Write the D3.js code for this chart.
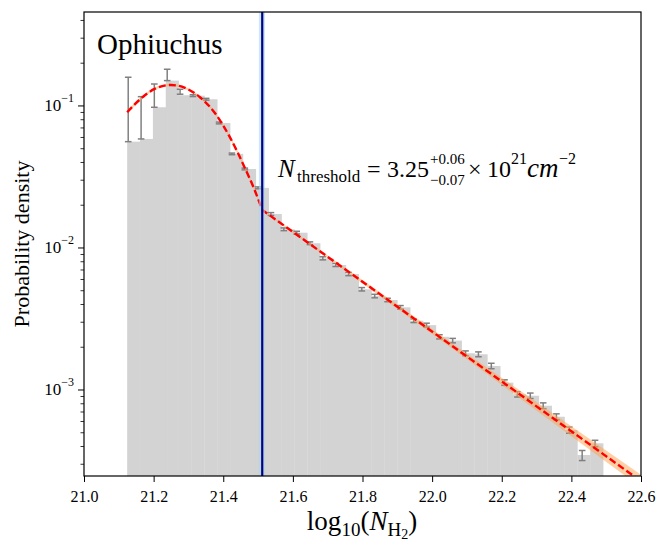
<!DOCTYPE html>
<html><head><meta charset="utf-8">
<script src="https://cdn.jsdelivr.net/npm/d3@7"></script>
<style>body{margin:0;background:#fff}svg{display:block}
svg text{font-family:"Liberation Serif","DejaVu Serif",serif;}</style>
</head><body>
<svg id="c" width="668" height="545"></svg>
<script>
// ---------------- data ----------------
const binLeft = 21.124;            // left edge of first histogram bar (log10 N)
const binWidth = 0.03695;          // histogram bin width
const barValues = [0.0556,0.0581,0.0971,0.1496,0.118,0.1172,0.1106,0.0753,0.0456,0.0357,0.0263,
  0.0172,0.01343,0.01271,0.01071,0.00839,0.00753,0.0065,0.00508,0.00455,0.00427,0.00379,0.00305,
  0.00284,0.00235,0.00221,0.0018,0.00177,0.001465,0.001117,0.000925,0.000904,0.000769,0.000643,
  0.000518,0.000346,0.000418];
const errX = [21.127,21.164,21.202,21.239,21.276,21.313,21.351,21.388,21.425,21.462,21.500,21.537,
  21.574,21.611,21.649,21.686,21.723,21.760,21.798,21.835,21.872,21.909,21.947,21.984,22.021,22.059,
  22.096,22.133,22.170,22.208,22.245,22.282,22.319,22.357,22.394,22.431,22.468];
const errLow = [0.0556,0.0581,0.0971,0.1496,0.120,0.1155,0.1090,0.0742,0.0450,0.0352,0.0259,
  0.0168,0.01313,0.01243,0.01047,0.00818,0.00734,0.00633,0.00494,0.00442,0.00415,0.00368,0.00296,
  0.00275,0.00227,0.00213,0.00173,0.00170,0.00140,0.00107,0.000885,0.000864,0.000733,0.000612,
  0.000492,0.000316,0.000395];
const errHigh = [0.158,0.1153,0.1416,0.1799,0.130,0.1189,0.1122,0.0764,0.0462,0.0362,0.0267,
  0.0176,0.01373,0.01300,0.01095,0.00860,0.00772,0.00667,0.00522,0.00468,0.00439,0.00390,0.00314,
  0.00293,0.00243,0.00229,0.00187,0.00184,0.00153,0.00117,0.000965,0.000944,0.000805,0.000674,
  0.000544,0.000372,0.000439];
// fit: log-normal part + power-law tail
const fitLogX = [21.124,21.161,21.204,21.250,21.290,21.333,21.376,21.419,21.463,21.491,21.512];
const fitLogY = [0.0896,0.1104,0.1312,0.1394,0.1330,0.1143,0.0885,0.0598,0.0359,0.0251,0.01837];
const fitLogLo = [0.0872,0.1079,0.1288,0.1369,0.1306,0.1122,0.0869,0.0586,0.0351,0.0246,0.01816];
const fitLogHi = [0.0921,0.1130,0.1336,0.1420,0.1355,0.1164,0.0901,0.0611,0.0367,0.0256,0.01858];
const fitPowX = [21.512,21.8,22.1,22.4,22.6];
const fitPowY = [0.01837,0.00574,0.001707,0.000508,0.000226];
const fitPowLo = [0.01816,0.00558,0.001630,0.000469,0.000204];
const fitPowHi = [0.01858,0.00590,0.001787,0.000551,0.000251];
const threshold = 21.512, thresholdLo = 21.5024, thresholdHi = 21.5198;
const xTicks = [21.0,21.2,21.4,21.6,21.8,22.0,22.2,22.4,22.6];
const yMajor = [1e-3,1e-2,1e-1];
const yMajorExp = ["−3","−2","−1"];
const yMinor = [3e-4,4e-4,5e-4,6e-4,7e-4,8e-4,9e-4,2e-3,3e-3,4e-3,5e-3,6e-3,7e-3,8e-3,9e-3,
  2e-2,3e-2,4e-2,5e-2,6e-2,7e-2,8e-2,9e-2,2e-1,3e-1,4e-1];

// ---------------- layout ----------------
const L = 84, R = 641, T = 12, B = 476;
const svg = d3.select("#c");
const x = d3.scaleLinear([21, 22.6], [L, R]);
const y = d3.scaleLog([2.46e-4, 0.455], [B, T]);

svg.append("defs").append("clipPath").attr("id","clip")
  .append("rect").attr("x",L).attr("y",T).attr("width",R-L).attr("height",B-T);
const g = svg.append("g").attr("clip-path","url(#clip)");

// bars
g.selectAll("rect.bar").data(barValues).join("rect").attr("class","bar")
  .attr("x",(d,i)=>x(binLeft+i*binWidth))
  .attr("width",(d,i)=>x(binLeft+(i+1)*binWidth)-x(binLeft+i*binWidth)+0.3)
  .attr("y",d=>y(d)).attr("height",d=>B-y(d))
  .attr("fill","#d3d3d3");

// error bars
const eb = g.append("g").attr("stroke","#808080").attr("stroke-width",1.5);
errX.forEach((xv,i)=>{
  const cx = x(xv);
  eb.append("line").attr("x1",cx).attr("x2",cx).attr("y1",y(errLow[i])).attr("y2",y(errHigh[i]));
  eb.append("line").attr("x1",cx-3.3).attr("x2",cx+3.3).attr("y1",y(errLow[i])).attr("y2",y(errLow[i]));
  eb.append("line").attr("x1",cx-3.3).attr("x2",cx+3.3).attr("y1",y(errHigh[i])).attr("y2",y(errHigh[i]));
});

// fit band
const area = d3.area().x(d=>x(d[0])).y0(d=>y(d[1])).y1(d=>y(d[2]));
const logBand = fitLogX.map((v,i)=>[v,fitLogLo[i],fitLogHi[i]]);
const powBand = fitPowX.map((v,i)=>[v,fitPowLo[i],fitPowHi[i]]);
g.append("path").attr("d",area.curve(d3.curveMonotoneX)(logBand)).attr("fill","#ffa24d").attr("opacity",0.5);
g.append("path").attr("d",area.curve(d3.curveLinear)(powBand)).attr("fill","#ffa24d").attr("opacity",0.5);

// fit line
const pts = fitLogX.map((v,i)=>[v,fitLogY[i]]);
const ptsP = fitPowX.map((v,i)=>[v,fitPowY[i]]);
const line = d3.line().x(d=>x(d[0])).y(d=>y(d[1]));
const allPath = line.curve(d3.curveMonotoneX)(pts) + line.curve(d3.curveLinear)(ptsP).replace(/^M/,"L");
g.append("path").attr("d",allPath).attr("fill","none").attr("stroke","#ff0000")
  .attr("stroke-width",2.4).attr("stroke-dasharray","7,3.2");

// threshold
g.append("rect").attr("x",x(thresholdLo)).attr("width",x(thresholdHi)-x(thresholdLo))
  .attr("y",T).attr("height",B-T).attr("fill","#add8e6").attr("opacity",0.6);
g.append("line").attr("x1",x(threshold)).attr("x2",x(threshold)).attr("y1",T).attr("y2",B)
  .attr("stroke","#00008b").attr("stroke-width",2.2);

// axes
const xa = svg.append("g").attr("transform",`translate(0,${B})`)
  .call(d3.axisBottom(x).tickValues(xTicks).tickFormat(d3.format(".1f")).tickSize(6).tickSizeOuter(0));
xa.attr("font-family",null);
xa.select(".domain").remove();
xa.selectAll("text").attr("font-size",16).attr("fill","#000").attr("dy","1.05em");
xa.selectAll("line").attr("stroke","#000").attr("stroke-width",1);

const ya = svg.append("g").attr("transform",`translate(${L},0)`)
  .call(d3.axisLeft(y).tickValues(yMajor).tickFormat(()=> "").tickSize(6).tickSizeOuter(0));
ya.select(".domain").remove();
ya.selectAll("line").attr("stroke","#000");
const ym = svg.append("g").attr("transform",`translate(${L},0)`)
  .call(d3.axisLeft(y).tickValues(yMinor).tickFormat(()=> "").tickSize(3.5).tickSizeOuter(0));
ym.select(".domain").remove();
ym.selectAll("line").attr("stroke","#000").attr("stroke-width",0.8);

yMajor.forEach((v,i)=>{
  const t = svg.append("text").attr("x",74).attr("y",y(v)+6).attr("text-anchor","end")
    .attr("font-size",17).attr("fill","#000");
  t.append("tspan").text("10");
  t.append("tspan").attr("font-size",12).attr("dy",-9).text(yMajorExp[i]);
});

// frame
svg.append("rect").attr("x",L).attr("y",T).attr("width",R-L).attr("height",B-T)
  .attr("fill","none").attr("stroke","#000").attr("stroke-width",1.2);

// axis labels
svg.append("text").attr("transform",`translate(29,${(T+B)/2}) rotate(-90)`).attr("text-anchor","middle")
  .attr("font-size",22).text("Probability density");
const xl = svg.append("text").attr("x",362).attr("y",530).attr("text-anchor","middle")
  .attr("font-size",27);
xl.append("tspan").text("log");
xl.append("tspan").attr("font-size",19).attr("dy",6).text("10");
xl.append("tspan").attr("dy",-6).text("(");
xl.append("tspan").attr("font-style","italic").text("N");
xl.append("tspan").attr("font-size",19).attr("dy",6).text("H");
xl.append("tspan").attr("font-size",14).attr("dy",3).text("2");
xl.append("tspan").attr("dy",-9).text(")");

// annotations
svg.append("text").attr("x",97).attr("y",54).attr("font-size",29).text("Ophiuchus");
const ann = svg.append("g").attr("fill","#000");
ann.append("text").attr("x",278).attr("y",177).attr("font-size",25).attr("font-style","italic").text("N");
ann.append("text").attr("x",297).attr("y",182).attr("font-size",17).text("threshold");
ann.append("text").attr("x",367).attr("y",177).attr("font-size",24).text("=");
ann.append("text").attr("x",387).attr("y",177).attr("font-size",24).text("3.25");
ann.append("text").attr("x",430).attr("y",164).attr("font-size",15).text("+0.06");
ann.append("text").attr("x",430).attr("y",185).attr("font-size",15).text("−0.07");
ann.append("text").attr("x",468).attr("y",177).attr("font-size",24).text("×");
ann.append("text").attr("x",487).attr("y",177).attr("font-size",24).text("10");
ann.append("text").attr("x",511).attr("y",164).attr("font-size",16).text("21");
ann.append("text").attr("x",527).attr("y",177).attr("font-size",27).attr("font-style","italic").text("cm");
ann.append("text").attr("x",559).attr("y",164).attr("font-size",16).text("−2");
</script>
</body></html>
